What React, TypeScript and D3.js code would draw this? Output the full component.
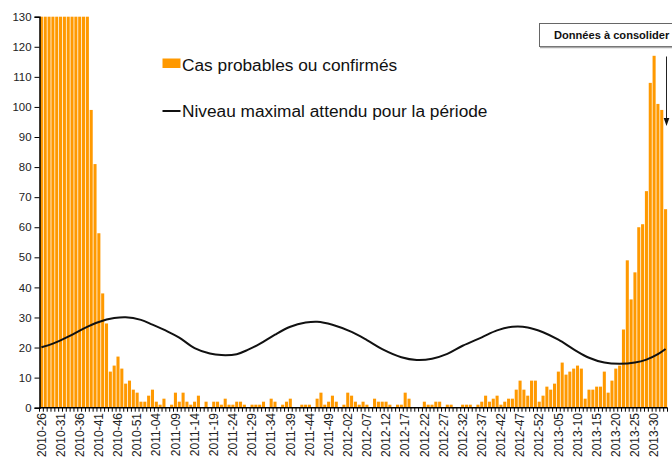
import React, { useEffect, useRef } from 'react'
import * as d3 from 'd3'

const startYear = 2010
const startWeek = 26

// cas par semaine, les 13 premieres semaines depassent le haut du graphique
const cases = [
    130, 130, 130, 130, 130, 130, 130, 130, 130, 130, 130, 130, 130, 99, 81, 58, 38, 28, 12, 14,
    17, 13, 8, 9, 6, 5, 2, 2, 4, 6, 2, 1, 3, 0, 1, 5, 2, 5, 2, 1,
    2, 4, 0, 2, 0, 2, 2, 1, 3, 1, 1, 2, 2, 1, 0, 1, 1, 1, 2, 0,
    3, 2, 0, 1, 2, 3, 0, 0, 1, 1, 1, 0, 3, 5, 1, 2, 4, 2, 0, 1,
    5, 4, 2, 1, 2, 1, 0, 3, 2, 2, 2, 1, 0, 1, 1, 5, 3, 0, 0, 0,
    2, 1, 1, 2, 2, 0, 1, 1, 0, 0, 1, 1, 1, 0, 1, 2, 4, 2, 3, 4,
    1, 2, 3, 3, 6, 9, 6, 4, 9, 9, 2, 4, 7, 6, 8, 12, 15, 11, 12, 13,
    14, 13, 3, 6, 6, 7, 7, 12, 5, 9, 13, 14, 26, 49, 36, 45, 60, 61, 72, 108,
    117, 101, 99, 66
]

// niveau maximal attendu, lu a quelques semaines
const levelWeeks = [0, 3, 7, 11, 15, 19, 22, 26, 29, 33, 36, 40, 44, 47, 51, 54, 57, 61, 65, 69, 72, 76,
    81, 85, 89, 94, 98, 102, 106, 110, 115, 119, 123, 127, 131, 135, 139, 143, 147, 151, 155, 158, 161, 163]
const levelValues = [20.1, 21.3, 23.6, 26.3, 28.5, 29.8, 30.1, 29.2, 27.6, 25.3, 23.3, 19.8, 18.0, 17.5, 17.8, 19.3, 21.2,
    24.3, 26.9, 28.3, 28.6, 27.6, 25.2, 22.5, 19.5, 16.8, 15.9, 16.3, 17.9, 20.6, 23.4, 25.7, 26.9, 26.7,
    25.1, 22.6, 19.4, 16.6, 15.0, 14.6, 15.0, 16.0, 17.8, 19.5]

const yTicks = [0, 10, 20, 30, 40, 50, 60, 70, 80, 90, 100, 110, 120, 130]
const xTickLabels = ['2010-26', '2010-31', '2010-36', '2010-41', '2010-46', '2010-51', '2011-04', '2011-09',
    '2011-14', '2011-19', '2011-24', '2011-29', '2011-34', '2011-39', '2011-44', '2011-49', '2012-02',
    '2012-07', '2012-12', '2012-17', '2012-22', '2012-27', '2012-32', '2012-37', '2012-42', '2012-47',
    '2012-52', '2013-05', '2013-10', '2013-15', '2013-20', '2013-25', '2013-30']

const weeks = cases.map((_, i) => {
    let w = startWeek + i
    let y = startYear
    while (w > 52) { w -= 52; y++ }
    return `${y}-${String(w).padStart(2, '0')}`
})

const W = 672
const H = 459
const font = 'Arial, "Liberation Sans", sans-serif'

function draw(svgEl: SVGSVGElement) {
    const svg = d3.select(svgEl)
    svg.selectAll('*').remove()

    const x = d3.scaleBand<string>()
        .domain(weeks)
        .range([39.5, 667.5])
        .paddingInner(0.2)
        .paddingOuter(0.1)

    const y = d3.scaleLinear()
        .domain([0, 130])
        .range([407.7, 16.7])

    const step = x.step()
    const half = x.bandwidth() / 2

    svg.append('g')
        .selectAll('rect')
        .data(cases)
        .join('rect')
        .attr('x', (d, i) => x(weeks[i])!)
        .attr('y', d => y(d))
        .attr('width', x.bandwidth())
        .attr('height', d => y(0) - y(d))
        .attr('fill', '#FF9900')

    const line = d3.line<number>()
        .x((d, i) => x(weeks[levelWeeks[i]])! + half)
        .y(d => y(d))
        .curve(d3.curveCatmullRom)

    svg.append('path')
        .attr('d', line(levelValues))
        .attr('fill', 'none')
        .attr('stroke', '#111')
        .attr('stroke-width', 2)

    // axe y
    const yAxis = d3.axisLeft(y).tickValues(yTicks).tickSize(5).tickPadding(3)
    const gy = svg.append('g')
        .attr('transform', 'translate(39.5,0)')
        .call(yAxis)
    gy.select('.domain').attr('stroke', '#000').attr('stroke-width', 1.5)
    gy.selectAll('.tick line').attr('stroke', '#000')
    gy.selectAll('.tick text')
        .attr('font-family', font)
        .attr('font-size', 11.4)
        .attr('fill', '#222')

    // axe x
    const gx = svg.append('g')
    gx.append('line')
        .attr('x1', 39.5).attr('x2', 667.5)
        .attr('y1', y(0)).attr('y2', y(0))
        .attr('stroke', '#000').attr('stroke-width', 1.5)
    const x0 = x(weeks[0])! - step * 0.1
    gx.selectAll('line.tick')
        .data(d3.range(weeks.length + 1))
        .join('line')
        .attr('class', 'tick')
        .attr('x1', i => x0 + i * step)
        .attr('x2', i => x0 + i * step)
        .attr('y1', y(0))
        .attr('y2', y(0) + 4)
        .attr('stroke', '#000')
    gx.selectAll('text')
        .data(xTickLabels)
        .join('text')
        .attr('transform', d => `translate(${x(d)! + half},413) rotate(-90)`)
        .attr('dy', '0.35em')
        .attr('text-anchor', 'end')
        .attr('font-family', font)
        .attr('font-size', 12)
        .attr('fill', '#222')
        .text(d => d)

    // legende
    const lg = svg.append('g').attr('font-family', font).attr('font-size', 17.3).attr('fill', '#111')
    lg.append('rect').attr('x', 162.5).attr('y', 58.5).attr('width', 18).attr('height', 9.5).attr('fill', '#FF9900')
    lg.append('text').attr('x', 182).attr('y', 70.5).text('Cas probables ou confirmés')
    lg.append('line').attr('x1', 162.5).attr('x2', 180.5).attr('y1', 111).attr('y2', 111)
        .attr('stroke', '#111').attr('stroke-width', 2)
    lg.append('text').attr('x', 182).attr('y', 117).text('Niveau maximal attendu pour la période')

    // annotation
    svg.append('rect')
        .attr('x', 539.5).attr('y', 23.5).attr('width', 140).attr('height', 23)
        .attr('fill', '#fff').attr('stroke', '#666').attr('stroke-width', 1)
    svg.append('line')
        .attr('x1', 540).attr('x2', 680).attr('y1', 47.5).attr('y2', 47.5)
        .attr('stroke', '#aaa').attr('stroke-width', 1.5)
    svg.append('text')
        .attr('x', 554).attr('y', 39)
        .attr('font-family', font).attr('font-size', 11.1).attr('font-weight', 'bold').attr('fill', '#111')
        .text('Données à consolider')

    const ax = 666.5
    svg.append('line')
        .attr('x1', ax).attr('x2', ax).attr('y1', 56.5).attr('y2', 119)
        .attr('stroke', '#222').attr('stroke-width', 1)
    svg.append('path')
        .attr('d', `M${ax - 2.8},118 L${ax + 2.8},118 L${ax},126 Z`)
        .attr('fill', '#111')
}

export default function App() {
    const ref = useRef<SVGSVGElement>(null)

    useEffect(() => {
        if (ref.current) draw(ref.current)
    }, [])

    return (
        <div style={{ position: 'absolute', left: 0, top: 0, width: W, height: H, background: '#fff' }}>
            <svg ref={ref} width={W} height={H} style={{ display: 'block' }}></svg>
        </div>
    )
}
